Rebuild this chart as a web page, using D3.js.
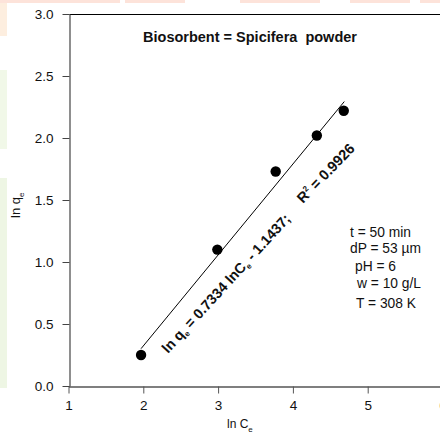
<!DOCTYPE html>
<html>
<head>
<meta charset="utf-8">
<script src="https://cdn.jsdelivr.net/npm/d3@7"></script>
<style>
  html, body { margin: 0; padding: 0; background: #fff; }
  svg { display: block; font-family: "Liberation Sans", Arial, sans-serif; }
</style>
</head>
<body>
<svg id="chart" width="440" height="433"></svg>
<script>
// Freundlich isotherm: ln qe versus ln Ce
const lnCe = [1.97, 2.99, 3.77, 4.32, 4.68];
const lnQe = [0.25, 1.10, 1.73, 2.02, 2.22];
const xTicks = [1, 2, 3, 4, 5, 6];
const yTicks = [0.0, 0.5, 1.0, 1.5, 2.0, 2.5, 3.0];
const fitSlope = 0.7334;
const fitIntercept = -1.1437;
const fitRange = [1.97, 4.687];
const conditions = ["t = 50 min", "dP = 53 \u00b5m", "pH = 6", "w = 10 g/L", "T = 308 K"];

const svg = d3.select("#chart");
const FONT = "'Liberation Sans', Arial, sans-serif";

// faint coloured patches along the page edges
const patches = svg.append("g");
patches.append("rect").attr("x", 0).attr("y", 0).attr("width", 7).attr("height", 36).attr("fill", "#fdeedf");
patches.append("rect").attr("x", 0).attr("y", 70).attr("width", 7).attr("height", 79).attr("fill", "#f1f8e8");
patches.append("rect").attr("x", 0).attr("y", 178).attr("width", 7).attr("height", 210).attr("fill", "#eef6e4");
[[0, 120], [125, 60], [240, 80], [350, 60], [420, 20]].forEach(([x0, w]) => {
  patches.append("rect").attr("x", x0).attr("y", 0).attr("width", w).attr("height", 3).attr("fill", "#fde3da");
});

const x = d3.scaleLinear().domain([1, 6]).range([68.5, 442.5]);
const y = d3.scaleLinear().domain([0, 3]).range([386, 14]);

// frame top edge
svg.append("line").attr("x1", 69.5).attr("x2", 440).attr("y1", 14.5).attr("y2", 14.5)
  .attr("stroke", "#000").attr("stroke-width", 1.2);

// x axis
const gx = svg.append("g").attr("transform", "translate(0,386.5)")
  .call(d3.axisBottom(x).tickValues(xTicks).tickFormat(d3.format("d")).tickSize(7).tickSizeOuter(0));
gx.select(".domain").attr("stroke", "#000").attr("stroke-width", 1.2);
gx.selectAll(".tick line").attr("stroke", "#555");
gx.selectAll(".tick text").attr("font-size", 13.5).attr("fill", "#111").attr("dy", "1.0em").attr("font-family", FONT);

// y axis
const gy = svg.append("g").attr("transform", "translate(69.5,0)")
  .call(d3.axisLeft(y).tickValues(yTicks).tickFormat(d3.format(".1f")).tickSize(7).tickSizeOuter(0));
gy.select(".domain").attr("stroke", "#444").attr("stroke-width", 1.2);
gy.selectAll(".tick line").attr("stroke", "#444");
gy.selectAll(".tick text").attr("font-size", 13.5).attr("fill", "#111").attr("x", -16).attr("font-family", FONT);

// axis titles
const xl = svg.append("text").attr("x", 227).attr("y", 428).attr("font-size", 12).attr("fill", "#111");
xl.append("tspan").text("ln C");
xl.append("tspan").attr("font-size", 8).attr("dy", 4).text("e");

const yl = svg.append("text").attr("transform", "translate(20,218) rotate(-90)").attr("font-size", 13).attr("fill", "#111");
yl.append("tspan").text("ln q");
yl.append("tspan").attr("font-size", 8).attr("dy", 4).text("e");

// fitted line
svg.append("line")
  .attr("x1", x(fitRange[0])).attr("y1", y(fitSlope * fitRange[0] + fitIntercept))
  .attr("x2", x(fitRange[1])).attr("y2", y(fitSlope * fitRange[1] + fitIntercept))
  .attr("stroke", "#000").attr("stroke-width", 1);

// data points
svg.append("g").selectAll("circle").data(lnCe).join("circle")
  .attr("cx", d => x(d)).attr("cy", (d, i) => y(lnQe[i])).attr("r", 5.2).attr("fill", "#000");

// title
svg.append("text").attr("x", 250).attr("y", 42).attr("text-anchor", "middle")
  .attr("font-size", 14.5).attr("font-weight", "bold").attr("fill", "#111")
  .attr("xml:space", "preserve").text("Biosorbent = Spicifera  powder");

// regression equation
const eq = svg.append("text").attr("transform", "translate(168,354) rotate(-47.5)")
  .attr("font-size", 14.3).attr("font-weight", "bold").attr("fill", "#111");
eq.append("tspan").text("ln q");
eq.append("tspan").attr("font-size", 8).attr("dy", 3).text("e");
eq.append("tspan").attr("dy", -3).text(" = " + fitSlope + " lnC");
eq.append("tspan").attr("font-size", 8).attr("dy", 3).text("e");
eq.append("tspan").attr("dy", -3).text(" - " + Math.abs(fitIntercept) + ";");

const r2 = svg.append("text").attr("transform", "translate(303,204) rotate(-46)")
  .attr("font-size", 14.5).attr("font-weight", "bold").attr("fill", "#111");
r2.append("tspan").text("R");
r2.append("tspan").attr("font-size", 8).attr("dy", -6).text("2");
r2.append("tspan").attr("dy", 6).text(" = 0.9926");

// experimental conditions
const condX = [350, 350, 355, 357, 356];
const condY = [237, 253, 271, 288, 308];
svg.append("g").selectAll("text").data(conditions).join("text")
  .attr("x", (d, i) => condX[i]).attr("y", (d, i) => condY[i])
  .attr("font-size", 13.8).attr("fill", "#111").text(d => d);
</script>
</body>
</html>
